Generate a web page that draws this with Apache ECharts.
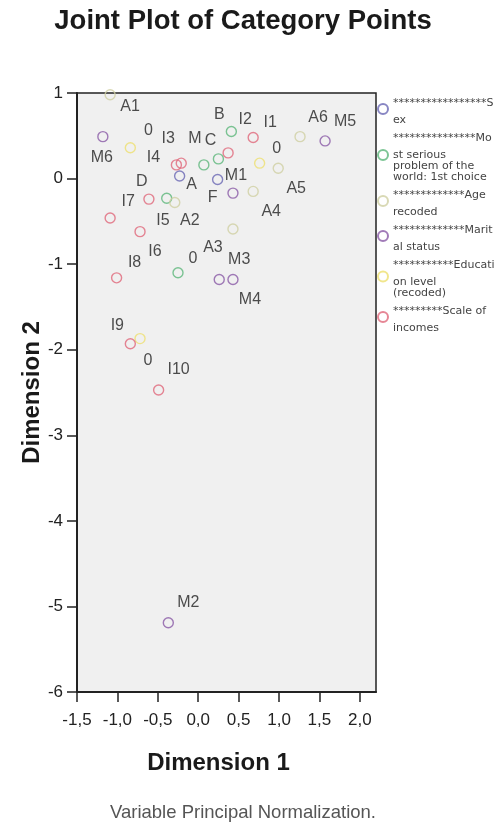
<!DOCTYPE html>
<html><head><meta charset="utf-8">
<script src="https://cdn.jsdelivr.net/npm/echarts@6/dist/echarts.min.js"></script>
<style>html,body{margin:0;padding:0;background:#fff}#c{width:497px;height:826px}</style>
</head><body><div id="c"></div>
<script>
// ---- data ----
const xTicks = [-1.5, -1.0, -0.5, 0.0, 0.5, 1.0, 1.5, 2.0];
const yTicks = [-6, -5, -4, -3, -2, -1, 0, 1];

const sexNames = ['A', 'F'];
const sexX = [-0.23, 0.24];
const sexY = [0.03, -0.01];

const problemNames = ['B', 'C', 'M', 'D', '0'];
const problemX = [0.41, 0.25, 0.07, -0.39, -0.25];
const problemY = [0.55, 0.23, 0.16, -0.23, -1.10];

const ageNames = ['A1', 'A2', 'A3', 'A4', 'A5', 'A6'];
const ageX = [-1.09, -0.29, 0.43, 0.68, 0.99, 1.26];
const ageY = [0.98, -0.28, -0.59, -0.15, 0.12, 0.49];

const maritalNames = ['M1', 'M2', 'M3', 'M4', 'M5', 'M6'];
const maritalX = [0.43, -0.37, 0.26, 0.43, 1.57, -1.18];
const maritalY = [-0.17, -5.19, -1.18, -1.18, 0.44, 0.49];

const eduNames = ['0', '0', '0'];
const eduX = [-0.84, 0.76, -0.72];
const eduY = [0.36, 0.18, -1.87];

const incomeNames = ['I1', 'I2', 'I3', 'I4', 'I5', 'I6', 'I7', 'I8', 'I9', 'I10'];
const incomeX = [0.68, 0.37, -0.21, -0.27, -0.61, -0.72, -1.09, -1.01, -0.84, -0.49];
const incomeY = [0.48, 0.30, 0.18, 0.16, -0.24, -0.62, -0.46, -1.16, -1.93, -2.47];

const legendTexts = [
  '*****************S\nex',
  '***************Mo\nst serious\nproblem of the\nworld: 1st choice',
  '*************Age\nrecoded',
  '*************Marit\nal status',
  '***********Educati\non level\n(recoded)',
  '*********Scale of\nincomes'
];

// ---- label placement (pixel offsets from each point) ----
const labelOffsets = {
  sex: [[12, 9], [-5, 18]],
  problem: [[-12, -17], [-8, -18], [-9, -26], [-25, -17], [15, -14]],
  age: [[20, 12], [15, 18], [-20, 19], [18, 20], [18, 20], [18, -19]],
  marital: [[3, -18], [20, -20], [20, -20], [17, 20], [20, -19], [-1, 21]],
  edu: [[18, -17], [17, -15], [8, 22]],
  income: [[17, -15], [17, -33], [-13, -25], [-23, -7], [14, 21], [15, 20], [18, -16], [18, -15], [-13, -18], [20, -20]]
};

const colors = ['#6a68b4', '#5cb67a', '#cfcfa2', '#8a5aa6', '#eee070', '#e0687a'];

function build(names, xs, ys, offs) {
  return names.map((n, i) => ({
    value: [xs[i], ys[i]],
    name: n,
    label: { offset: offs[i] }
  }));
}

const groups = [
  [sexNames, sexX, sexY, labelOffsets.sex],
  [problemNames, problemX, problemY, labelOffsets.problem],
  [ageNames, ageX, ageY, labelOffsets.age],
  [maritalNames, maritalX, maritalY, labelOffsets.marital],
  [eduNames, eduX, eduY, labelOffsets.edu],
  [incomeNames, incomeX, incomeY, labelOffsets.income]
];

const series = groups.map((g, k) => ({
  type: 'scatter',
  name: legendTexts[k],
  symbol: 'circle',
  symbolSize: 10,
  itemStyle: { color: 'rgba(0,0,0,0)', borderColor: colors[k], borderWidth: 1.4 },
  label: {
    show: true, position: 'inside', formatter: p => p.name,
    color: '#222', fontSize: 16, fontFamily: 'Liberation Sans'
  },
  emphasis: { disabled: true },
  data: build(g[0], g[1], g[2], g[3])
}));

const fmt = v => v.toFixed(1).replace('.', ',');

const chart = echarts.init(document.getElementById('c'), null, { renderer: 'canvas' });
chart.setOption({
  animation: false,
  backgroundColor: '#fff',
  title: [
    { text: 'Joint Plot of Category Points', left: 243, top: 7, textAlign: 'center', padding: 0,
      textStyle: { fontSize: 27.5, fontWeight: 'bold', color: '#1a1a1a', fontFamily: 'Liberation Sans' } },
    { text: 'Variable Principal Normalization.', left: 243, top: 803, textAlign: 'center', padding: 0,
      textStyle: { fontSize: 18.5, fontWeight: 'normal', color: '#555', fontFamily: 'Liberation Sans' } }
  ],
  grid: { left: 77, right: 121, top: 93, bottom: 134, show: true, backgroundColor: '#f0f0f0', borderColor: '#222', borderWidth: 1.5 },
  legend: {
    orient: 'vertical', left: 377, top: 98, padding: 0, itemGap: 7,
    itemWidth: 10, itemHeight: 10,
    data: legendTexts,
    selectedMode: false,
    formatter: name => {
      const lines = name.split('\n');
      return '{h|' + lines[0] + '}' + lines.slice(1).map(l => '\n{b|' + l + '}').join('');
    },
    textStyle: {
      fontSize: 11, color: '#444', fontFamily: 'DejaVu Sans',
      rich: { h: { lineHeight: 23, fontSize: 11, fontFamily: 'DejaVu Sans', color: '#444' },
              b: { lineHeight: 11, fontSize: 11, fontFamily: 'DejaVu Sans', color: '#444' } }
    }
  },
  xAxis: {
    type: 'value', min: -1.5, max: 2.2, interval: 0.5,
    name: 'Dimension 1', nameLocation: 'middle', nameGap: 59,
    nameTextStyle: { fontSize: 24, fontWeight: 'bold', color: '#1a1a1a', fontFamily: 'Liberation Sans', padding: [0, 16, 0, 0] },
    axisLine: { onZero: false, lineStyle: { color: '#222', width: 2 } },
    axisTick: { show: true, length: 10, customValues: xTicks, lineStyle: { color: '#222', width: 1.5 } },
    axisLabel: { margin: 20, customValues: xTicks, formatter: fmt, fontSize: 17, color: '#222', fontFamily: 'Liberation Sans' },
    splitLine: { show: false }
  },
  yAxis: {
    type: 'value', min: -6, max: 1, interval: 1,
    name: 'Dimension 2', nameLocation: 'middle', nameGap: 33, nameRotate: 90, nameMoveOverlap: false,
    nameTextStyle: { fontSize: 24, fontWeight: 'bold', color: '#1a1a1a', fontFamily: 'Liberation Sans' },
    axisLine: { onZero: false, lineStyle: { color: '#222', width: 2 } },
    axisTick: { show: true, length: 10, customValues: yTicks, lineStyle: { color: '#222', width: 1.5 } },
    axisLabel: { margin: 14, customValues: yTicks, fontSize: 17, color: '#222', fontFamily: 'Liberation Sans' },
    splitLine: { show: false }
  },
  series: series
});
</script>
</body></html>
